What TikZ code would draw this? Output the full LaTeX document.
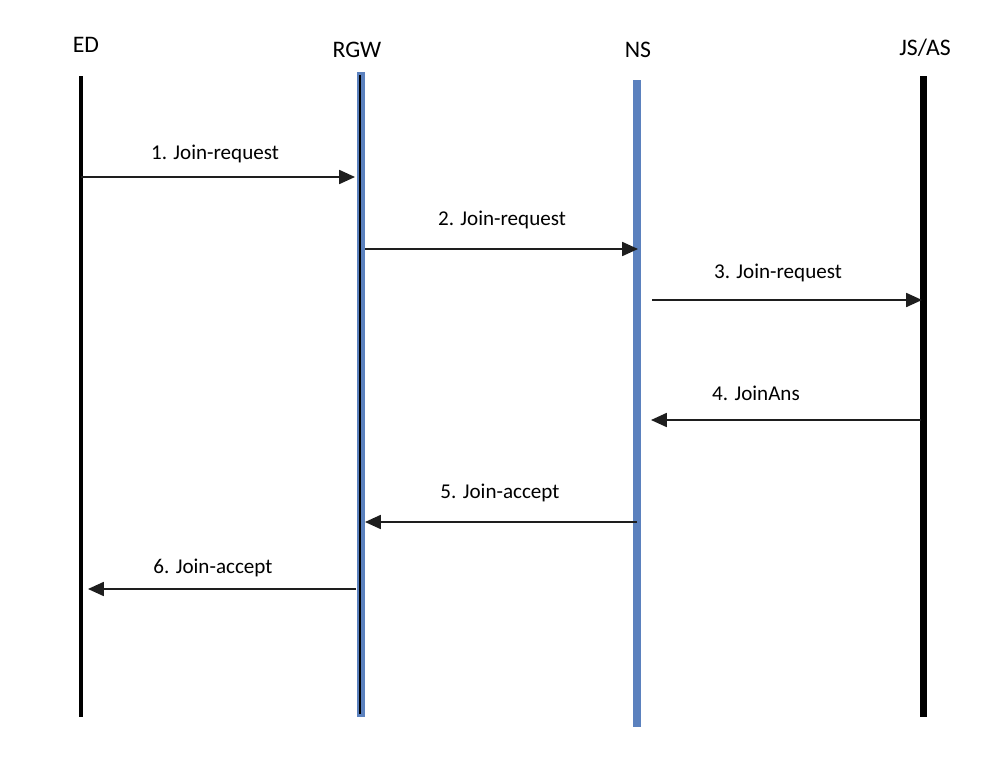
\documentclass[tikz,border=0pt]{standalone}
\usepackage{fontspec}
\setmainfont{Carlito}
\usetikzlibrary{arrows.meta}
\definecolor{lineblue}{RGB}{91,129,190}
\definecolor{msggray}{RGB}{30,30,30}
\tikzset{
  title/.style={font=\fontsize{13.5}{16}\selectfont, anchor=center, inner sep=0pt},
  lbl/.style={font=\fontsize{12}{14}\selectfont, anchor=center, inner sep=0pt},
  blackline/.style={draw=black, line width=1.8pt},
  thickblack/.style={draw=black, line width=4pt},
  blueline/.style={draw=lineblue, line width=4pt},
  msg/.style={draw=msggray, line width=0.85pt, -{Triangle[length=9pt,width=8pt]}, shorten >=0pt},
}
\begin{document}
\begin{tikzpicture}[x=0.02cm,y=-0.02cm]
\useasboundingbox (0,0) rectangle (1000,764);
% titles
\node[title] (tED) at (86,45) {ED};
\node[title] (tRGW) at (357,50) {RGW};
\node[title] (tNS) at (638,50) {NS};
\node[title] (tJS) at (925,48) {JS/AS};
% lifeline end points
\coordinate (edT) at (81,76);  \coordinate (edB) at (81,717);
\coordinate (rgwT) at (361,72); \coordinate (rgwB) at (361,717);
\coordinate (rgwiT) at (360,75); \coordinate (rgwiB) at (360,714);
\coordinate (nsT) at (637,80); \coordinate (nsB) at (637,727);
\coordinate (jsT) at (923,76); \coordinate (jsB) at (923,717);
% lifelines
\draw[blackline] (edT) -- (edB);
\draw[blueline] (rgwT) -- (rgwB);
\draw[draw=black, line width=1.2pt] (rgwiT) -- (rgwiB);
\draw[blueline] (nsT) -- (nsB);
\draw[thickblack] (jsT) -- (jsB);
% message endpoints
\coordinate (m1s) at (81,177);  \coordinate (m1e) at (355,177);
\coordinate (m2s) at (365,249); \coordinate (m2e) at (638,249);
\coordinate (m3s) at (652,300); \coordinate (m3e) at (922,300);
\coordinate (m4s) at (921,420); \coordinate (m4e) at (651,420);
\coordinate (m5s) at (637,522); \coordinate (m5e) at (365,522);
\coordinate (m6s) at (356,589); \coordinate (m6e) at (88,589);
% messages
\draw[msg] (m1s) -- (m1e);
\draw[msg] (m2s) -- (m2e);
\draw[msg] (m3s) -- (m3e);
\draw[msg] (m4s) -- (m4e);
\draw[msg] (m5s) -- (m5e);
\draw[msg] (m6s) -- (m6e);
% labels
\node[lbl] (l1) at (215,154) {1. Join-request};
\node[lbl] (l2) at (502,220) {2. Join-request};
\node[lbl] (l3) at (778,273) {3. Join-request};
\node[lbl] (l4) at (756,393) {4. JoinAns};
\node[lbl] (l5) at (500,493) {5. Join-accept};
\node[lbl] (l6) at (213,568) {6. Join-accept};
\end{tikzpicture}
\end{document}
